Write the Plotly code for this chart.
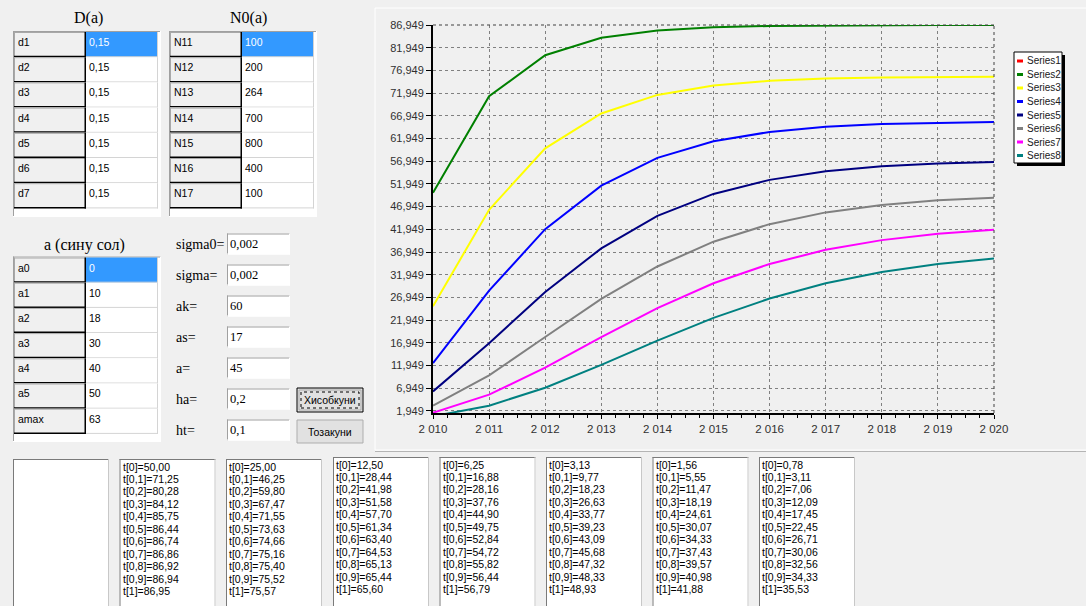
import plotly.graph_objects as go

# ---------------- data ----------------
years = [2010, 2011, 2012, 2013, 2014, 2015, 2016, 2017, 2018, 2019, 2020]
t_labels = ["t[0]", "t[0,1]", "t[0,2]", "t[0,3]", "t[0,4]", "t[0,5]",
            "t[0,6]", "t[0,7]", "t[0,8]", "t[0,9]", "t[1]"]

series_names = ["Series1", "Series2", "Series3", "Series4",
                "Series5", "Series6", "Series7", "Series8"]
series1 = []
series2 = [50.00, 71.25, 80.28, 84.12, 85.75, 86.44, 86.74, 86.86, 86.92, 86.94, 86.95]
series3 = [25.00, 46.25, 59.80, 67.47, 71.55, 73.63, 74.66, 75.16, 75.40, 75.52, 75.57]
series4 = [12.50, 28.44, 41.98, 51.58, 57.70, 61.34, 63.40, 64.53, 65.13, 65.44, 65.60]
series5 = [6.25, 16.88, 28.16, 37.76, 44.90, 49.75, 52.84, 54.72, 55.82, 56.44, 56.79]
series6 = [3.13, 9.77, 18.23, 26.63, 33.77, 39.23, 43.09, 45.68, 47.32, 48.33, 48.93]
series7 = [1.56, 5.55, 11.47, 18.19, 24.61, 30.07, 34.33, 37.43, 39.57, 40.98, 41.88]
series8 = [0.78, 3.11, 7.06, 12.09, 17.45, 22.45, 26.71, 30.06, 32.56, 34.33, 35.53]
series_values = [series1, series2, series3, series4, series5, series6, series7, series8]

d_labels = ["d1", "d2", "d3", "d4", "d5", "d6", "d7"]
d_values = [0.15, 0.15, 0.15, 0.15, 0.15, 0.15, 0.15]
n0_labels = ["N11", "N12", "N13", "N14", "N15", "N16", "N17"]
n0_values = [100, 200, 264, 700, 800, 400, 100]
a_labels = ["a0", "a1", "a2", "a3", "a4", "a5", "amax"]
a_values = [0, 10, 18, 30, 40, 50, 63]
param_labels = ["sigma0=", "sigma=", "ak=", "as=", "a=", "ha=", "ht="]
param_values = [0.002, 0.002, 60, 17, 45, 0.2, 0.1]

y_min, y_max, y_tick0, y_step = 1.5, 86.949, 1.949, 5

# ---------------- styles ----------------
series_colors = ["#ff0000", "#008000", "#ffff00", "#0000ff",
                 "#000080", "#808080", "#ff00ff", "#008080"]
W, H = 1086, 606
BG = "#f0f0f0"
SANS = "Liberation Sans, Arial, sans-serif"
SERIF = "Liberation Serif, Times New Roman, serif"


def num(v):
    return str(v).replace(".", ",")


def px(x):
    return x / W


def py(y):
    return 1 - y / H


shapes, annots = [], []


def rect(x0, y0, x1, y1, fill=None, line=None, lw=1, dash=None, layer="above"):
    ln = dict(color=line if line else "rgba(0,0,0,0)", width=lw if line else 0)
    if dash:
        ln["dash"] = dash
    shapes.append(dict(type="rect", xref="paper", yref="paper",
                       x0=px(x0), x1=px(x1), y0=py(y1), y1=py(y0),
                       fillcolor=fill if fill else "rgba(0,0,0,0)",
                       line=ln, layer=layer))


def seg(x0, y0, x1, y1, color, lw=1, dash=None):
    ln = dict(color=color, width=lw)
    if dash:
        ln["dash"] = dash
    shapes.append(dict(type="line", xref="paper", yref="paper",
                       x0=px(x0), x1=px(x1), y0=py(y0), y1=py(y1), line=ln))


def text(x, y, s, size=11, family=SANS, color="black", anchor="left"):
    annots.append(dict(x=px(x), y=py(y), xref="paper", yref="paper", text=s,
                       showarrow=False, xanchor=anchor, yanchor="middle",
                       borderpad=0, font=dict(size=size, family=family, color=color)))


def sunken(x0, y0, x1, y1, fill="white"):
    rect(x0, y0, x1, y1, fill=fill)
    seg(x0, y0 + 0.5, x1, y0 + 0.5, "#a0a0a0")
    seg(x0 + 0.5, y0, x0 + 0.5, y1, "#a0a0a0")
    seg(x0, y1 - 0.5, x1, y1 - 0.5, "#ffffff")
    seg(x1 - 0.5, y0, x1 - 0.5, y1, "#ffffff")


def grid_table(x0, y0, x1, y1, lab_w, val_w, row_h, labels, values):
    sunken(x0, y0, x1, y1)
    for i, (lab, val) in enumerate(zip(labels, values)):
        ry0 = y0 + 1 + i * row_h
        ry1 = ry0 + row_h
        lx0 = x0 + 1
        lx1 = lx0 + lab_w
        vx1 = lx1 + val_w
        rect(lx0, ry0, lx1, ry1, fill=BG)
        seg(lx0, ry0 + 0.5, lx1, ry0 + 0.5, "#a8a8a8")
        seg(lx0 + 0.5, ry0, lx0 + 0.5, ry1, "#a8a8a8")
        seg(lx0, ry1 - 0.75, lx1, ry1 - 0.75, "#000000", 1.5)
        seg(lx1 - 0.75, ry0, lx1 - 0.75, ry1, "#000000", 1.5)
        sel = (i == 0)
        rect(lx1, ry0, vx1, ry1, fill="#3399ff" if sel else "white")
        seg(lx1, ry1 - 0.5, vx1, ry1 - 0.5, "#d4d4d4")
        seg(vx1 - 0.5, ry0, vx1 - 0.5, ry1, "#d4d4d4")
        text(lx0 + 3, ry0 + 10, lab, size=10.5)
        text(lx1 + 2, ry0 + 10, num(val), size=10.5,
             color="white" if sel else "black")


# ---------------- left form ----------------
text(88, 18, "D(a)", size=16, family=SERIF, anchor="center")
text(248, 18, "N0(a)", size=16, family=SERIF, anchor="center")
text(84, 245, "a (сину сол)", size=16, family=SERIF, anchor="center")

grid_table(13, 31, 161, 217, 72, 72, 25.2, d_labels, d_values)
grid_table(169, 31, 317, 217, 72, 72, 25.2, n0_labels, n0_values)
grid_table(13, 256.5, 161, 442, 72, 72, 25.2, a_labels, a_values)

param_y = [244, 275, 306, 337, 368, 399, 430]
for lab, val, yc in zip(param_labels, param_values, param_y):
    text(175, yc, lab, size=14, family=SERIF)
    sunken(227, yc - 10.5, 290, yc + 10.5)
    text(229, yc, num(val), size=12.5, family=SERIF)

# buttons
rect(297, 388, 363, 412, fill="#e1e1e1", line="#000000", lw=1)
rect(299, 390, 361, 410, fill="rgba(0,0,0,0)", line="#adadad", lw=1)
rect(301, 392, 359, 408, line="#000000", lw=1, dash="dot")
text(330, 400, "Хисобкуни", size=10.5, anchor="center")
rect(297, 420, 363, 443, fill="#e1e1e1", line="#adadad", lw=1)
text(330, 431.5, "Тозакуни", size=10.5, anchor="center")

# ---------------- chart panel ----------------
seg(375, 8, 1086, 8, "#ffffff")
seg(375, 8, 375, 450, "#ffffff")
seg(375, 450, 1086, 450, "#ffffff")
seg(375, 451.5, 1086, 451.5, "#b4b4b4")

# ---------------- bottom text boxes ----------------
box_left = [13, 119.5, 226, 333, 439.5, 546, 652.5, 759]
box_top = [459, 459, 459, 457, 457, 457, 457, 457]
for k, (bl, bt) in enumerate(zip(box_left, box_top)):
    rect(bl, bt, bl + 96, H + 5, fill="white")
    seg(bl, bt + 0.5, bl + 96, bt + 0.5, "#7a7a7a")
    seg(bl + 0.5, bt, bl + 0.5, H + 5, "#7a7a7a")
    seg(bl + 95.5, bt, bl + 95.5, H + 5, "#c8c8c8")
    if k == 0:
        continue
    vals = series_values[k]
    for j, (tl, v) in enumerate(zip(t_labels, vals)):
        text(bl + 2, bt + 7.5 + j * 12.45, f"{tl}={v:.2f}".replace(".", ","),
             size=10.5)

# ---------------- custom legend ----------------
lg_x0, lg_y0, lg_x1, lg_y1 = 1014, 52, 1062, 163
rect(lg_x0 + 3, lg_y0 + 3, lg_x1 + 3, lg_y1 + 3, fill="#000000")
rect(lg_x0, lg_y0, lg_x1, lg_y1, fill="white", line="#000000", lw=1)
for i, (nm, col) in enumerate(zip(series_names, series_colors)):
    yc = lg_y0 + 9 + i * 13.5
    seg(lg_x0 + 3, yc, lg_x0 + 9, yc, col, 3)
    text(lg_x0 + 11.5, yc, nm, size=10, color="#202020")

# ---------------- chart ----------------
fig = go.Figure()
for nm, col, vals in zip(series_names, series_colors, series_values):
    fig.add_trace(go.Scatter(x=years[:len(vals)], y=vals, mode="lines", name=nm,
                             line=dict(color=col, width=2), showlegend=False,
                             hoverinfo="x+y+name"))

# dashed top / right frame
shapes.append(dict(type="line", xref="x domain", yref="y domain", x0=0, x1=1, y0=1, y1=1,
                   line=dict(color="#404040", width=1, dash="3px,3px")))
shapes.append(dict(type="line", xref="x domain", yref="y domain", x0=1, x1=1, y0=0, y1=1,
                   line=dict(color="#404040", width=1, dash="3px,3px")))

fig.update_layout(
    template="none",
    width=W, height=H,
    autosize=False,
    margin=dict(l=0, r=0, t=0, b=0, pad=0, autoexpand=False),
    paper_bgcolor=BG, plot_bgcolor=BG,
    separators=", ",
    showlegend=False,
    shapes=shapes,
    annotations=annots,
    xaxis=dict(
        domain=[px(433), px(994)],
        range=[years[0], years[-1]],
        tick0=years[0], dtick=1, tickformat=",d",
        showline=True, linecolor="#000000", linewidth=2,
        ticks="outside", ticklen=4, tickcolor="#000000",
        showgrid=True, gridcolor="#808080", gridwidth=1, griddash="3px,3px",
        zeroline=False, automargin=False,
        tickfont=dict(size=11.5, family=SANS, color="#303030"),
        minor=dict(dtick=0.25, ticks="outside", ticklen=3, tickcolor="#000000", showgrid=False),
    ),
    yaxis=dict(
        domain=[py(413), py(25)],
        range=[y_min, y_max],
        tick0=y_tick0, dtick=y_step, tickformat=".3f",
        showline=True, linecolor="#000000", linewidth=2,
        ticks="outside", ticklen=5, tickcolor="#000000",
        showgrid=True, gridcolor="#808080", gridwidth=1, griddash="3px,3px",
        zeroline=False, automargin=False,
        tickfont=dict(size=11, family=SANS, color="#303030"),
    ),
)

fig.write_html(
    "out.html",
    config={"displayModeBar": False},
    post_script="document.body.style.margin='0';document.body.style.padding='0';"
                "document.body.style.overflow='hidden';",
)
